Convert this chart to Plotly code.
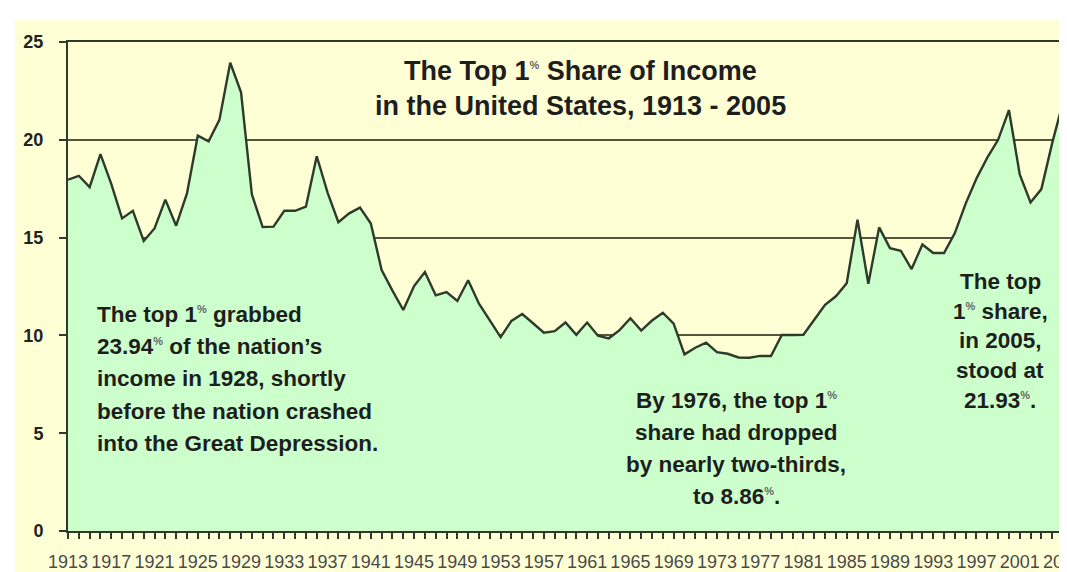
import plotly.graph_objects as go

# ---- data ----
years = list(range(1913, 2006))
top1_share = [17.96, 18.16, 17.58, 19.27, 17.75, 15.98, 16.37, 14.83, 15.47, 16.94,
              15.61, 17.26, 20.21, 19.92, 21.02, 23.94, 22.43, 17.21, 15.54, 15.56,
              16.37, 16.37, 16.59, 19.16, 17.30, 15.79, 16.24, 16.53, 15.72, 13.34,
              12.29, 11.30, 12.52, 13.24, 12.05, 12.21, 11.76, 12.82, 11.62, 10.79,
              9.91, 10.74, 11.09, 10.62, 10.14, 10.22, 10.66, 10.03, 10.66, 9.98,
              9.85, 10.27, 10.88, 10.25, 10.76, 11.16, 10.60, 9.03, 9.37, 9.63,
              9.14, 9.06, 8.87, 8.86, 8.95, 8.95, 10.02, 10.02, 10.03, 10.80,
              11.56, 12.00, 12.67, 15.92, 12.64, 15.52, 14.46, 14.33, 13.39, 14.65,
              14.21, 14.21, 15.23, 16.74, 18.02, 19.09, 20.00, 21.52, 18.23, 16.80,
              17.48, 19.83, 21.93]
x_tick_years = years[::4]
x_tick_labels = [str(y) for y in x_tick_years]
y_ticks = [0, 5, 10, 15, 20, 25]

PCT = '<sup><span style="font-size:11px;color:#666666">%</span></sup>'
title_lines = ["The Top 1" + PCT + " Share of Income",
               "in the United States, 1913 - 2005"]
left_note = ["The top 1" + PCT + " grabbed",
             "23.94" + PCT + " of the nation\u2019s",
             "income in 1928, shortly",
             "before the nation crashed",
             "into the Great Depression."]
mid_note = ["By 1976, the top 1" + PCT,
            "share had dropped",
            "by nearly two-thirds,",
            "to 8.86" + PCT + "."]
right_note = ["The top",
              "1" + PCT + " share,",
              "in 2005,",
              "stood at",
              "21.93" + PCT + "."]

# ---- styling ----
W, H = 1067, 572
L, R, T, B = 60, 12, 34, 49
PW, PH = W - L - R, H - T - B
BG = "#FFFFD6"
FILL = "#CCFFCC"
DARK = "#2E3A2A"
GRID = "#55553C"
FONT = "Liberation Sans, Arial, sans-serif"
TXT = "#1E1E1E"


def px(xp):
    return (xp - L) / PW


def py(yp):
    return (H - B - yp) / PH


fig = go.Figure()
fig.add_trace(go.Scatter(
    x=years, y=top1_share, mode="lines", fill="tozeroy",
    fillcolor=FILL, line=dict(color=DARK, width=2.4),
    hoverinfo="x+y", showlegend=False))

annotations = []


def add_lines(lines, xp, yps, size, anchor):
    for text, yp in zip(lines, yps):
        annotations.append(dict(
            text="<b>" + text + "</b>", xref="paper", yref="paper",
            x=px(xp), y=py(yp), xanchor=anchor, yanchor="middle",
            showarrow=False, borderpad=0,
            font=dict(family=FONT, size=size, color=TXT)))


add_lines(title_lines, 572, [63, 98], 27, "center")
add_lines(left_note, 88, [306, 338, 370, 403, 435], 22.5, "left")
add_lines(mid_note, 728, [392, 424, 456, 488], 22.5, "center")
add_lines(right_note, 992, [273, 303, 332, 362, 392], 22.5, "center")

shapes = [
    # white outer border / yellow page
    dict(type="rect", xref="paper", yref="paper", x0=px(7), x1=px(W + 20),
         y0=py(H + 20), y1=py(12), fillcolor=BG, line=dict(width=0), layer="below"),
    # title box hides the 20 gridline
    dict(type="rect", xref="paper", yref="y", x0=px(345), x1=px(795),
         y0=19.3, y1=24.6, fillcolor=BG, line=dict(width=0), layer="between"),
]

fig.update_layout(
    width=W, height=H,
    margin=dict(l=L, r=R, t=T, b=B, pad=0),
    paper_bgcolor="white", plot_bgcolor=BG,
    annotations=annotations, shapes=shapes,
    showlegend=False,
    xaxis=dict(
        range=[1913, 2005], tickmode="array", tickvals=x_tick_years,
        ticktext=x_tick_labels, tickangle=0, automargin=False,
        ticklabeloverflow="allow",
        ticks="outside", ticklen=6, tickwidth=2, tickcolor=DARK,
        minor=dict(dtick=1, ticks="outside", ticklen=6, tickwidth=2,
                   tickcolor=DARK, showgrid=False),
        ticklabelstandoff=7,
        tickfont=dict(family=FONT, size=18, color="#4A4A4A"),
        showgrid=False, showline=True, linecolor=DARK, linewidth=2,
        mirror=True, zeroline=False, fixedrange=True),
    yaxis=dict(
        range=[0, 25], tickmode="array", tickvals=y_ticks,
        ticks="outside", ticklen=7, tickwidth=2, tickcolor=DARK,
        ticklabelstandoff=12, automargin=False,
        tickfont=dict(family=FONT, size=18, color="#222222", weight="bold"),
        showgrid=True, gridcolor=GRID, gridwidth=2,
        showline=True, linecolor=DARK, linewidth=2,
        mirror=True, zeroline=False, fixedrange=True),
)

fig.write_html("out.html")
